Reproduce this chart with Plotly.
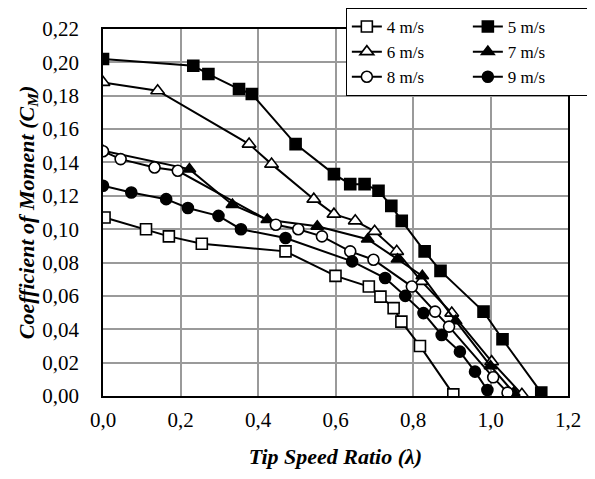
import plotly.graph_objects as go

x4 = [0.004, 0.111, 0.170, 0.255, 0.471, 0.600, 0.686, 0.716, 0.750, 0.770, 0.818, 0.904]
y4 = [0.107, 0.100, 0.0957, 0.0913, 0.0867, 0.072, 0.0656, 0.0596, 0.0527, 0.0446, 0.030, 0.001]

x5 = [0.0, 0.233, 0.272, 0.351, 0.384, 0.497, 0.596, 0.638, 0.675, 0.711, 0.744, 0.771, 0.830, 0.871, 0.982, 1.031, 1.131]
y5 = [0.202, 0.198, 0.193, 0.184, 0.181, 0.151, 0.133, 0.127, 0.127, 0.123, 0.114, 0.105, 0.0867, 0.075, 0.0506, 0.034, 0.002]

x6 = [0.0, 0.141, 0.377, 0.435, 0.544, 0.596, 0.651, 0.701, 0.758, 0.822, 0.900, 1.003, 1.081]
y6 = [0.188, 0.183, 0.151, 0.139, 0.118, 0.109, 0.105, 0.0987, 0.0867, 0.0687, 0.0497, 0.0206, 0.001]

x7 = [0.0, 0.223, 0.334, 0.424, 0.553, 0.683, 0.760, 0.824, 0.910, 1.000, 1.060]
y7 = [0.147, 0.136, 0.1147, 0.1057, 0.1017, 0.094, 0.082, 0.072, 0.045, 0.018, 0.002]

x8 = [0.0, 0.0455, 0.133, 0.193, 0.446, 0.504, 0.565, 0.638, 0.698, 0.797, 0.857, 0.893, 1.007, 1.044]
y8 = [0.1467, 0.142, 0.137, 0.135, 0.1027, 0.100, 0.0957, 0.0867, 0.0817, 0.0656, 0.0506, 0.0416, 0.0112, 0.002]

x9 = [0.0, 0.073, 0.163, 0.219, 0.298, 0.356, 0.471, 0.643, 0.728, 0.780, 0.827, 0.874, 0.921, 0.960, 0.992]
y9 = [0.126, 0.122, 0.118, 0.1127, 0.108, 0.100, 0.0947, 0.0807, 0.0707, 0.060, 0.0497, 0.0366, 0.0266, 0.0146, 0.0036]

names = ["4 m/s", "5 m/s", "6 m/s", "7 m/s", "8 m/s", "9 m/s"]

series = [
    (names[0], x4, y4, "square", "white", 11),
    (names[1], x5, y5, "square", "black", 11),
    (names[2], x6, y6, "triangle-up", "white", 12),
    (names[3], x7, y7, "triangle-up", "black", 11),
    (names[4], x8, y8, "circle", "white", 11),
    (names[5], x9, y9, "circle", "black", 11),
]

FONT = "Liberation Serif"

fig = go.Figure()
for name, xs, ys, sym, fill, sz in series:
    fig.add_trace(go.Scatter(
        x=xs, y=ys, name=name, mode="lines+markers",
        line=dict(color="black", width=2),
        marker=dict(symbol=sym, color=fill, size=sz, line=dict(color="black", width=1.6)),
    ))

fig.update_layout(
    width=587, height=471,
    margin=dict(l=95, r=27, t=21, b=83, autoexpand=False),
    paper_bgcolor="white", plot_bgcolor="white",
    separators=", ",
    font=dict(family=FONT, size=16, color="black"),
    showlegend=True,
    legend=dict(
        orientation="h",
        xref="paper", x=1.047, xanchor="right",
        yref="container", y=1.0, yanchor="top",
        bgcolor="white", bordercolor="black", borderwidth=1,
        entrywidth=76, itemwidth=30,
        font=dict(family=FONT, size=17, color="black"),
    ),
    xaxis=dict(
        range=[0, 1.2], dtick=0.2, tickformat=".1f",
        showgrid=True, gridcolor="#9a9a9a", gridwidth=1.5,
        showline=True, linecolor="black", linewidth=1.5, mirror=True,
        ticks="", zeroline=False, ticklabelstandoff=4,
        tickfont=dict(family=FONT, size=21),
        title=dict(text="<b><i>Tip Speed Ratio (λ)</i></b>", font=dict(family=FONT, size=22), standoff=18),
    ),
    yaxis=dict(
        range=[0, 0.22], dtick=0.02, tickformat=".2f",
        showgrid=True, gridcolor="#9a9a9a", gridwidth=1.5,
        showline=True, linecolor="black", linewidth=1.5, mirror=True,
        ticks="", zeroline=False, ticklabelstandoff=18,
        tickfont=dict(family=FONT, size=21),
        title=dict(text="<b><i>Coefficient of Moment (C<sub>M</sub>)</i></b>", font=dict(family=FONT, size=22), standoff=2),
    ),
)

fig.write_html("out.html")
